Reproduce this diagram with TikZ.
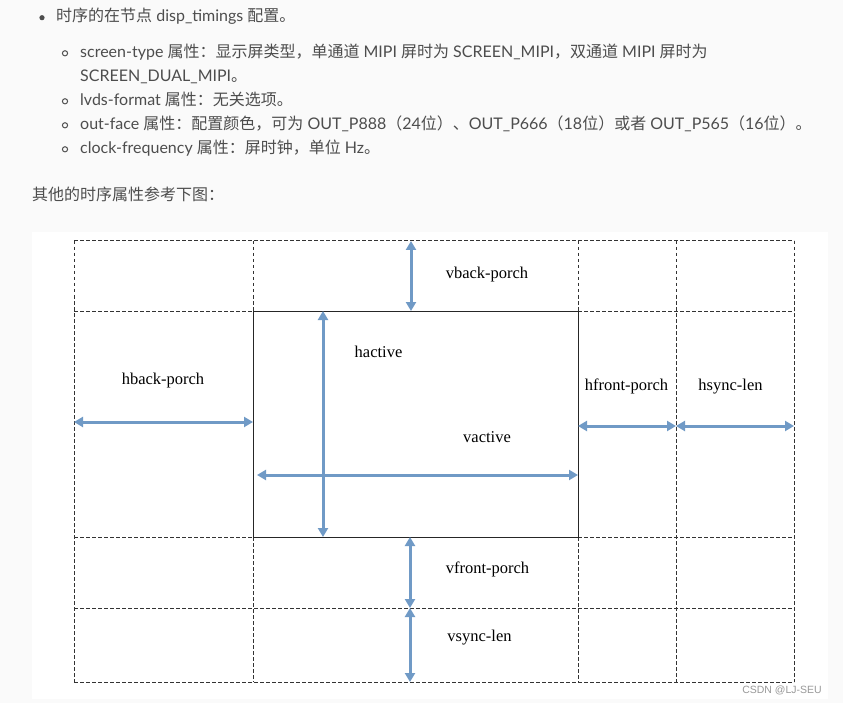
\documentclass[tikz,border=0pt]{standalone}
\usepackage{fontspec}
\setmainfont{Lato}
\newfontfamily\cjk{Noto Sans CJK SC}
\newfontfamily\tnr{Liberation Serif}
\newfontfamily\wmark{Liberation Sans}
\usetikzlibrary{arrows.meta}

\definecolor{txtgray}{HTML}{4D4D4D}
\definecolor{arrowblue}{HTML}{709AC6}
\definecolor{pagebg}{HTML}{FAFAFA}

\newcommand{\zh}[1]{{\cjk #1}}

\begin{document}
\begin{tikzpicture}[x=1pt,y=-1pt,
  item/.style={anchor=base west,inner sep=0pt,text=txtgray,font=\fontsize{16}{19}\selectfont},
  lbl/.style={anchor=base,inner sep=0pt,font=\tnr\fontsize{16.5}{19}\selectfont},
  cell/.style={draw=black!80,line width=1pt,dash pattern=on 3.5pt off 2.5pt},
  activebox/.style={draw=black!85,line width=1pt},
  dimarrow/.style={draw=arrowblue,line width=3pt,{Triangle[length=9pt,width=10pt]}-{Triangle[length=9pt,width=10pt]}}]

\fill[pagebg] (0,0) rectangle (843,703);
\fill[white] (32,232) rectangle (828,699);
\useasboundingbox (0,0) rectangle (843,703);

% list above the picture
\fill[txtgray] (42,17.7) circle (2.6);
\node[item] (l1) at (56,22) {\zh{时序的在节点} disp\_timings \zh{配置。}};

\draw[txtgray,line width=1pt] (65,53.3) circle (2.6);
\node[item] (l2) at (80,57.5) {screen-type \zh{属性：显示屏类型，单通道} MIPI \zh{屏时为} SCREEN\_MIPI\zh{，双通道} MIPI \zh{屏时为}};
\node[item] (l3) at (80,81.5) {SCREEN\_DUAL\_MIPI\zh{。}};

\draw[txtgray,line width=1pt] (65,101.3) circle (2.6);
\node[item] (l4) at (80,105.5) {lvds-format \zh{属性：无关选项。}};

\draw[txtgray,line width=1pt] (65,125.3) circle (2.6);
\node[item] (l5) at (80,129.5) {out-face \zh{属性：配置颜色，可为} OUT\_P888\zh{（}24\zh{位）、}OUT\_P666\zh{（}18\zh{位）或者} OUT\_P565\zh{（}16\zh{位）。}};

\draw[txtgray,line width=1pt] (65,149.3) circle (2.6);
\node[item] (l6) at (80,153.5) {clock-frequency \zh{属性：屏时钟，单位} Hz\zh{。}};

\node[item] (l7) at (32,201) {\zh{其他的时序属性参考下图：}};

% dashed grid
\draw[cell] (74,241) -- (794,241);
\draw[cell] (74,311) -- (253,311) (578,311) -- (794,311);
\draw[cell] (74,537) -- (253,537) (578,537) -- (794,537);
\draw[cell] (74,608) -- (794,608);
\draw[cell] (74,682) -- (794,682);
\draw[cell] (74,241) -- (74,682);
\draw[cell] (253,241) -- (253,311) (253,537) -- (253,682);
\draw[cell] (578,241) -- (578,311) (578,537) -- (578,682);
\draw[cell] (676,241) -- (676,682);
\draw[cell] (794,241) -- (794,682);

% active area
\draw[activebox] (253,311) rectangle (578,537);

% arrow ends
\coordinate (vbp-t) at (411,241);
\coordinate (vbp-b) at (411,311);
\coordinate (hbp-l) at (74,422);
\coordinate (hbp-r) at (253,422);
\coordinate (ha-t) at (323,311);
\coordinate (ha-b) at (323,537);
\coordinate (va-l) at (257,475);
\coordinate (va-r) at (578,475);
\coordinate (hfp-l) at (578,426);
\coordinate (hfp-r) at (676,426);
\coordinate (hs-r) at (794,426);
\coordinate (vfp-t) at (410,537);
\coordinate (vfp-b) at (410,608);
\coordinate (vs-b) at (410,682);

\draw[dimarrow] (vbp-t) -- (vbp-b);
\draw[dimarrow] (hbp-l) -- (hbp-r);
\draw[dimarrow] (ha-t) -- (ha-b);
\draw[dimarrow] (va-l) -- (va-r);
\draw[dimarrow] (hfp-l) -- (hfp-r);
\draw[dimarrow] (hfp-r) -- (hs-r);
\draw[dimarrow] (vfp-t) -- (vfp-b);
\draw[dimarrow] (vfp-b) -- (vs-b);

% labels
\node[lbl] (vbp) at (487,278.3) {vback-porch};
\node[lbl] (hbp) at (163,384.3) {hback-porch};
\node[lbl] (ha) at (378.5,357.3) {hactive};
\node[lbl] (va) at (487,442.3) {vactive};
\node[lbl] (hfp) at (626.5,390.7) {hfront-porch};
\node[lbl] (hs) at (730.5,390.7) {hsync-len};
\node[lbl] (vfp) at (487.5,573.3) {vfront-porch};
\node[lbl] (vs) at (479.5,641.7) {vsync-len};

\node[anchor=base east,inner sep=0pt,text=black!40,font=\wmark\fontsize{10.5}{12}\selectfont] (mark) at (822,693) {CSDN @LJ-SEU};

\end{tikzpicture}
\end{document}
